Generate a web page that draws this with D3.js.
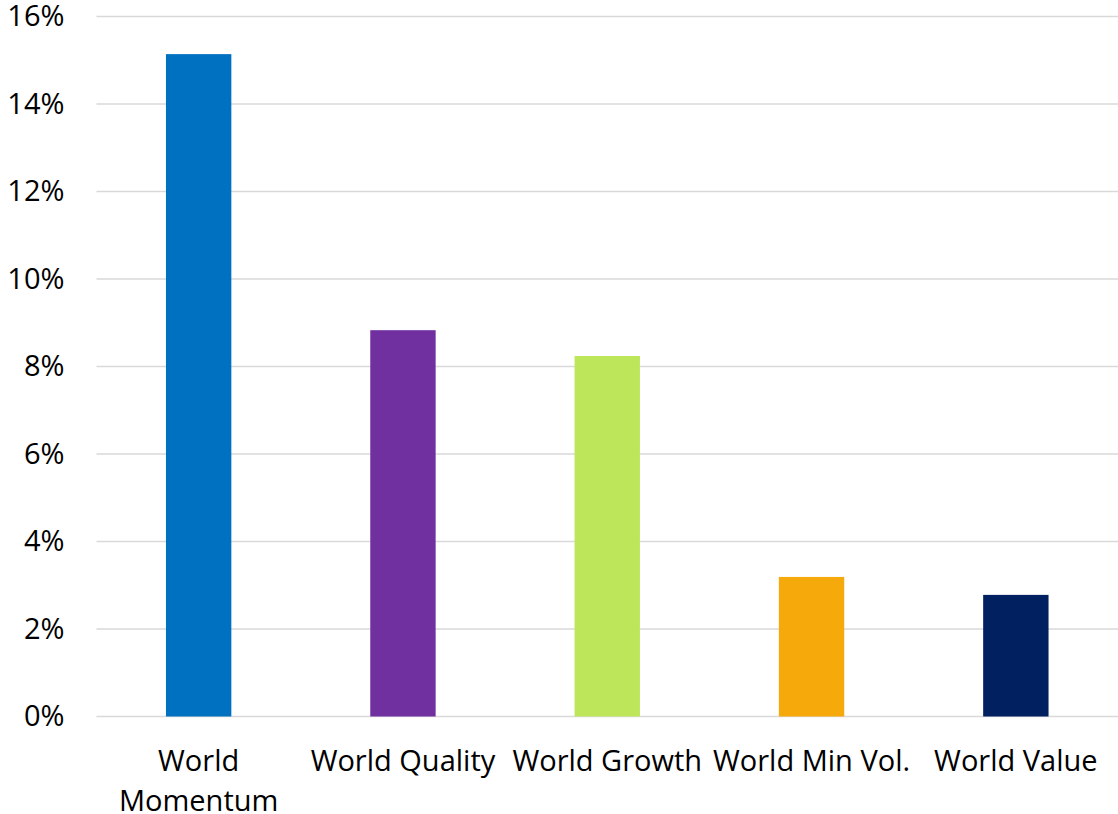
<!DOCTYPE html>
<html>
<head>
<meta charset="utf-8">
<script src="https://cdn.jsdelivr.net/npm/d3@7"></script>
<style>
  body { margin: 0; background: #fff; }
  #chart { width: 1118px; height: 814px; }
  .y-axis text, .x-axis text { font-family: "Open Sans", sans-serif; font-size: 29px; fill: #000; }
</style>
</head>
<body>
<div id="chart"></div>
<script>
const categories = ['World Momentum', 'World Quality', 'World Growth', 'World Min Vol.', 'World Value'];
const values = [15.14, 8.83, 8.24, 3.19, 2.78];
const barColors = ['#0070c0', '#7030a0', '#bde65a', '#f6a90b', '#002060'];
const yTicks = [0, 2, 4, 6, 8, 10, 12, 14, 16];

const width = 1118, height = 814;
const margin = { top: 16.5, right: 0, bottom: 97.5, left: 96.5 };
const innerW = width - margin.left - margin.right;
const innerH = height - margin.top - margin.bottom;

const svg = d3.select('#chart').append('svg')
  .attr('width', width)
  .attr('height', height);

const chart = svg.append('g')
  .attr('transform', `translate(${margin.left},${margin.top})`);

const x = d3.scaleBand()
  .domain(categories)
  .range([0, innerW])
  .paddingInner(0.68)
  .paddingOuter(0.34);

const y = d3.scaleLinear()
  .domain([0, 16])
  .range([innerH, 0]);

// gridlines
chart.append('g')
  .selectAll('line')
  .data(yTicks)
  .join('line')
  .attr('x1', 0)
  .attr('x2', innerW)
  .attr('y1', d => y(d))
  .attr('y2', d => y(d))
  .attr('stroke', '#d9d9d9')
  .attr('stroke-width', 1.5);

// y axis labels
const yAxis = chart.append('g')
  .attr('class', 'y-axis')
  .call(d3.axisLeft(y).tickValues(yTicks).tickFormat(d => d + '%').tickSize(0).tickPadding(32));
yAxis.select('.domain').remove();

// bars
chart.selectAll('.bar')
  .data(values)
  .join('rect')
  .attr('class', 'bar')
  .attr('x', (d, i) => x(categories[i]))
  .attr('width', x.bandwidth())
  .attr('y', d => y(d))
  .attr('height', d => y(0) - y(d))
  .attr('fill', (d, i) => barColors[i]);

// x axis labels
const xAxis = chart.append('g')
  .attr('class', 'x-axis')
  .attr('transform', `translate(0,${innerH})`)
  .call(d3.axisBottom(x).tickSize(0).tickPadding(0));
xAxis.select('.domain').remove();

// wrap long labels like the original
xAxis.selectAll('.tick text')
  .each(function(d) {
    const t = d3.select(this);
    t.text(null).attr('y', 0).attr('dy', null);
    const lines = d === 'World Momentum' ? ['World', 'Momentum'] : [d];
    lines.forEach((ln, i) => {
      t.append('tspan')
        .attr('x', 0)
        .attr('y', 54 + i * 40)
        .text(ln);
    });
  });
</script>
</body>
</html>
